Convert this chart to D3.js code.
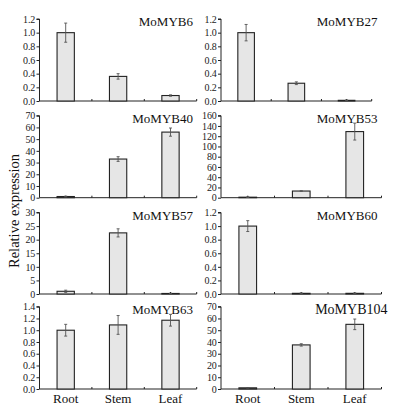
<!DOCTYPE html>
<html>
<head>
<meta charset="utf-8">
<script src="https://cdnjs.cloudflare.com/ajax/libs/d3/7.8.5/d3.min.js"></script>
<style>
  body { margin: 0; background: #fff; }
  svg { font-family: "Liberation Serif", "DejaVu Serif", serif; }
</style>
</head>
<body>
<div id="chart"></div>
<script>
// tissues on the x axis
const tissues = ["Root", "Stem", "Leaf"];

// gene names, one panel each (left to right, top to bottom)
const genes = ["MoMYB6", "MoMYB27", "MoMYB40", "MoMYB53", "MoMYB57", "MoMYB60", "MoMYB63", "MoMYB104"];

// mean relative expression for Root, Stem, Leaf
const myb6 = [1.0, 0.36, 0.08];
const myb27 = [1.0, 0.26, 0.01];
const myb40 = [1.0, 33, 56];
const myb53 = [1.0, 13, 129];
const myb57 = [1.0, 22.5, 0.2];
const myb60 = [1.0, 0.01, 0.01];
const myb63 = [1.0, 1.09, 1.17];
const myb104 = [1.0, 37.5, 55];

// error (+/-)
const myb6Err = [0.14, 0.04, 0.01];
const myb27Err = [0.12, 0.02, 0.005];
const myb40Err = [0.3, 2, 3.5];
const myb53Err = [0.5, 0.5, 16.5];
const myb57Err = [0.4, 1.5, 0.1];
const myb60Err = [0.08, 0.005, 0.005];
const myb63Err = [0.1, 0.16, 0.1];
const myb104Err = [0.2, 1, 4.5];

// y axis max and tick step for each panel
const yMax = [1.2, 1.2, 70, 160, 30, 1.2, 1.4, 70];
const yStep = [0.2, 0.2, 10, 20, 5, 0.2, 0.2, 10];

const means = [myb6, myb27, myb40, myb53, myb57, myb60, myb63, myb104];
const errs = [myb6Err, myb27Err, myb40Err, myb53Err, myb57Err, myb60Err, myb63Err, myb104Err];

const width = 394, height = 411;
const svg = d3.select("#chart").append("svg")
  .attr("width", width)
  .attr("height", height);

// panel frames (plot area), rows and columns
const rowTop = [19, 115.7, 212.5, 306.7];
const rowBottom = [101, 197.7, 294, 389];
const colLeft = [39.5, 221];
const colRight = [196.7, 381.5];

genes.forEach((gene, i) => {
  const r = Math.floor(i / 2), c = i % 2;
  let x0 = colLeft[c], x1 = colRight[c];
  if (i === 1) x1 = 371.7; // this one is a bit narrower in the figure
  const y0 = rowTop[r], y1 = rowBottom[r];

  const x = d3.scaleBand().domain(tissues).range([x0, x1]).padding(0);
  const y = d3.scaleLinear().domain([0, yMax[i]]).range([y1, y0]);
  const g = svg.append("g");
  const fmt = yStep[i] < 1 ? d3.format(".1f") : d3.format("d");
  const ticks = d3.range(0, yMax[i] + yStep[i] / 2, yStep[i]);

  // y axis
  const yAxis = g.append("g")
    .attr("transform", `translate(${x0},0)`)
    .call(d3.axisLeft(y).tickValues(ticks).tickFormat(fmt).tickSize(3).tickPadding(1.5));
  yAxis.select(".domain").attr("stroke", "#222").attr("d", `M-3,${y0}H0V${y1}`);
  yAxis.selectAll(".tick line").attr("stroke", "#222");
  yAxis.selectAll("text")
    .attr("fill", "#222")
    .style("font-size", "10px")
    .style("font-family", "'Liberation Serif', serif")
    .attr("letter-spacing", "-0.2");

  // x axis line with small ticks at boundaries and centers
  g.append("line")
    .attr("x1", x0).attr("x2", x1)
    .attr("y1", y1).attr("y2", y1)
    .attr("stroke", "#222");
  const tickX = [];
  tissues.forEach(t => {
    tickX.push(x(t) + x.bandwidth());
    tickX.push(x(t) + x.bandwidth() / 2);
  });
  g.selectAll(".xt").data(tickX).enter().append("line")
    .attr("x1", d => d).attr("x2", d => d)
    .attr("y1", y1).attr("y2", y1 - 2)
    .attr("stroke", "#222");

  const barW = x.bandwidth() * 0.33;
  const rows = tissues.map((t, k) => ({ t: t, v: means[i][k], e: errs[i][k] }));

  // bars
  g.selectAll(".bar").data(rows).enter().append("rect")
    .attr("x", d => x(d.t) + x.bandwidth() / 2 - barW / 2)
    .attr("y", d => y(d.v))
    .attr("width", barW)
    .attr("height", d => y1 - y(d.v))
    .attr("fill", "#e6e6e6")
    .attr("stroke", "#222")
    .attr("stroke-width", 1.1);

  // error bars
  const eb = g.selectAll(".err").data(rows).enter().append("g")
    .attr("stroke", "#555")
    .attr("stroke-width", 0.9);
  eb.append("line")
    .attr("x1", d => x(d.t) + x.bandwidth() / 2)
    .attr("x2", d => x(d.t) + x.bandwidth() / 2)
    .attr("y1", d => y(d.v + d.e))
    .attr("y2", d => y(Math.max(0, d.v - d.e)));
  eb.append("line")
    .attr("x1", d => x(d.t) + x.bandwidth() / 2 - 1.5)
    .attr("x2", d => x(d.t) + x.bandwidth() / 2 + 1.5)
    .attr("y1", d => y(d.v + d.e))
    .attr("y2", d => y(d.v + d.e));
  eb.append("line")
    .attr("x1", d => x(d.t) + x.bandwidth() / 2 - 1.5)
    .attr("x2", d => x(d.t) + x.bandwidth() / 2 + 1.5)
    .attr("y1", d => y(Math.max(0, d.v - d.e)))
    .attr("y2", d => y(Math.max(0, d.v - d.e)));

  // gene name
  g.append("text")
    .attr("x", c === 0 ? 193 : (i === 7 ? 387.5 : 377.5))
    .attr("y", y0 + 7)
    .attr("text-anchor", "end")
    .attr("fill", "#111")
    .style("font-size", i === 7 ? "14px" : "13px")
    .text(gene);

  // tissue labels on the last row
  if (r === 3) {
    g.selectAll(".xl").data(tissues).enter().append("text")
      .attr("x", d => x(d) + x.bandwidth() / 2)
      .attr("y", y1 + 14)
      .attr("text-anchor", "middle")
      .attr("fill", "#111")
      .style("font-size", "13px")
      .text(d => d);
  }
});

// shared y label
svg.append("text")
  .attr("transform", "translate(19,211) rotate(-90)")
  .attr("text-anchor", "middle")
  .attr("fill", "#111")
  .style("font-size", "14.5px")
  .text("Relative expression");
</script>
</body>
</html>
